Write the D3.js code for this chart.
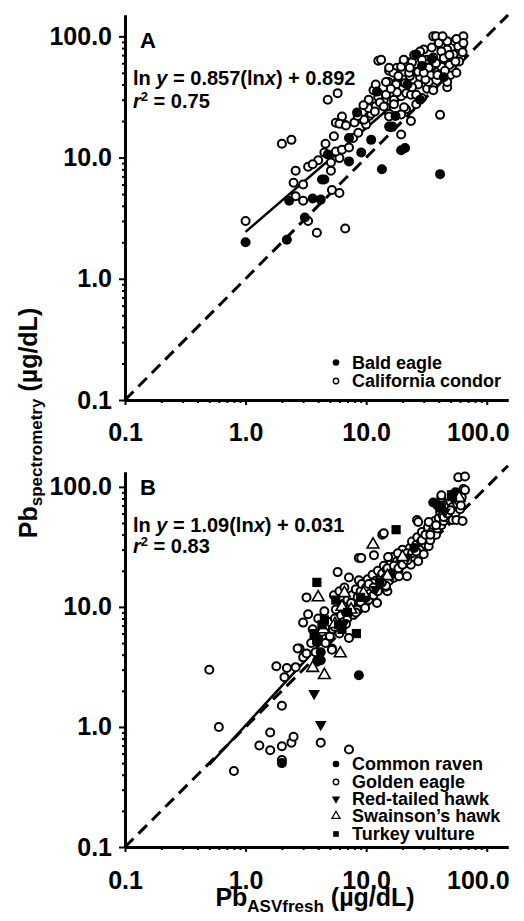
<!DOCTYPE html>
<html>
<head>
<meta charset="utf-8">
<title>Pb spectrometry vs Pb ASV</title>
<style>
  body { margin: 0; background: #fff; }
  svg { font-family: "Liberation Sans", Arial, sans-serif; font-weight: bold; }
  .axis path, .axis line { stroke: #000; }
  .axis path { stroke-width: 3; }
  .axis line { stroke-width: 2; }
  .axis text { font-family: "Liberation Sans", Arial, sans-serif; font-size: 25px; font-weight: bold; fill: #000; }
  .eq { font-size: 20px; }
  .legend { font-size: 18px; }
</style>
</head>
<body>
<svg id="chart" width="524" height="921"></svg>
<script src="https://cdnjs.cloudflare.com/ajax/libs/d3/7.8.5/d3.min.js"></script>
<script>
// ---- ticks ----
const majorTicks = [0.1, 1, 10, 100];
const majorLabels = ["0.1", "1.0", "10.0", "100.0"];
const minorTicks = [0.2, 0.3, 0.4, 0.5, 0.6, 0.7, 0.8, 0.9,
                    2, 3, 4, 5, 6, 7, 8, 9,
                    20, 30, 40, 50, 60, 70, 80, 90];

// ---- panel A : [Pb ASVfresh, Pb spectrometry] ----
const baldEagleA = [
  [1.0,2.0],[2.2,2.1],[2.3,4.4],[3.1,3.2],[3.6,4.6],[4.2,4.5],[4.3,6.6],[4.8,10.6],
  [7.2,9.3],[9.1,11],[11,14],[13.5,8.0],[19.5,11.5],[21,12],[15.5,18],[12.3,35],
  [8.4,23.5],[41,7.3],[26,71],[29,57],[44,46],[28,30],[7.2,14.5],[17.5,22],[35,65],
  [22,40],[4.5,6.6],[16,17.8]
];
const condorA = [
  [1.0,3.0],[2.0,13],[2.4,14],[2.6,7.8],[3.3,8.4],[2.5,6.2],[3.0,6.0],[2.6,4.8],[3.0,4.4],
  [3.3,3.0],[3.9,2.4],[6.7,2.6],[5.2,5.4],[6.0,5.1],[5.1,7.8],[5.1,9.1],[6.0,9.9],[5.6,11.2],
  [6.3,11.6],[7.2,12.1],[5.4,15],[5.6,19.4],[6.6,18.7],[6.3,21.8],[6.0,19],[6.8,18.4],[4.8,30],
  [5.8,34],[8.0,19.5],[9.3,20.5],[10.6,22],[10,18.7],[4.5,11],[4.0,9.5],[3.6,8.8],[4.6,13],
  [7.8,14.5],[8.6,16],[9.6,20.5],[11,23],[10.5,25.5],[12,26.5],[14,30],[13,33],[12.6,31.5],
  [13,28.5],[14.6,26],[15.5,23],[19.5,15.5],[21.4,25],[12.6,63],[13.3,64],
  [15.5,52],[18,55],[20.5,63],[15.3,42],[17,30],[19.5,32],[21.5,34],[18,42],[20.5,44],[23,47],
  [16.8,50],[19.5,56],[22,61],[26,51],[29.5,56],[32,64],[36,100],[38,100],[42,83],[47,78],
  [54,91],[61,83],[64,100],[58,75],[61,67],[47,57],[52,56],[46,46],[50,48],[32,37],[36,38],
  [28,46],[34,48],[41,22.5],[30,78],[35,81],[42,75],[20.5,64],[24,61],[29,64],[36,67],[53,71],
  [62,81],[15.5,55],[22.7,50],[27,51],[33,55],[42,56],[51,55],[59,62],[14.6,42],[17.7,40],
  [21,41],[27,40],[33,42],[36,36],[47,38],[14.6,33],[18,34.5],[23.5,33],[29,31],[14,26.4],
  [17,27.5],[20.6,26],[26,27.5],[15.5,21.8],[19.5,22.7],[23.5,20],[16.5,18],[47,42],[49,58],
  [47,91],[58,83],[56,95],[25,70],[28,75],[40,88],[44,66],[39,48],[55,62],[63,74],[45,52],
  [38,60],[31,44],[24,38],[26,33],[18.5,47],[11.5,36],[12,40],[10.5,30],[9.5,27],[11.8,24],
  [8.5,22],[16,37],[30,50],[56,50],[64,88],[49,70],[43,100],[23,55]
];

// ---- panel B ----
const ravenB = [
  [2.0,0.5],[3.9,5.1],[4.2,4.2],[4.2,3.6],[3.9,3.5],[8.7,2.7],[36,74],[39,70],[10,12],
  [16,19],[25,31],[55,90]
];
const goldenEagleB = [
  [0.5,3.0],[0.6,1.0],[0.8,0.43],[1.3,0.7],[1.6,0.9],[1.6,0.64],[2.0,0.69],[2.4,0.74],[2.5,0.83],
  [2.0,0.53],[2.0,1.5],[4.2,0.74],[7.2,0.65],
  [1.8,3.2],[2.2,3.1],[2.6,3.15],[3.0,3.8],[2.8,4.5],[2.1,2.6],[2.7,4.5],[3.2,4.1],[5.2,4.5],
  [5.2,4.4],[3.2,12],[3.3,8.7],[3.0,7.4],[5.8,19.5],[7.2,5.5],[12.3,10.8],[7.2,17.6],[8.7,16.7],
  [8.7,25.6],[3.5,5.0],[3.8,4.2],[4.0,5.5],[4.3,6.2],[4.6,5.0],[4.8,6.8],[3.6,6.5],[4.0,8.0],
  [4.5,9.2],[5.0,5.7],[5.0,7.5],[5.3,6.5],[5.5,8.0],[5.6,9.5],[5.8,7.0],[6.0,6.0],[6.2,8.5],
  [6.4,10.5],[6.5,7.5],[6.8,9.0],[7.0,11.5],[7.0,8.0],[7.4,9.8],[7.6,12.5],[7.8,8.6],[8.0,10.5],
  [5.4,12.5],[6.0,13.5],[6.6,14.5],[8.2,14.0],[8.4,9.5],[8.5,12],[8.8,11],[9.0,13.5],[9.2,15.5],
  [9.5,10.5],[9.8,12.5],[10,14.5],[10.3,17],[10.5,11.5],[10.8,13],[11,15.5],[11.3,18.5],
  [11.5,12.5],[11.8,14],[12,16.5],[12.5,20],[13,14.5],[13.3,17],[13.6,19],[14,22],[14,15.5],
  [14.5,17.5],[14.8,20.5],[15,13.5],[15.5,16.5],[15.8,19],[16,23],[16.5,26],[17,17.5],
  [17.5,20.5],[18,24],[18.7,18],[19,21.5],[19.5,25],[20,30],[14.6,14.7],[21,23],[21.8,18],
  [22,27],[23,31],[23.5,22.5],[24,35],[24.5,26],[25,29],[26,33],[26.5,38],[27,24],[28,30],
  [28.5,35],[29,42],[30,27.5],[31,33],[32,38],[32.5,46],[33,32],[34,36],[35,42],[26.4,53],
  [13.6,40],[14,41],[9.1,25.6],[11.6,27],[15.2,26],[18.3,28],[21.8,28],[11.3,15.8],[14.6,15],
  [36,48],[37,52],[38,40],[39,45],[40,55],[41,62],[42,48],[42,81],[42,85],[43,58],[44,52],
  [45,66],[46,70],[48,55],[49,62],[50,75],[52,53],[52,68],[54,80],[55,60],[56,53],[57,72],
  [58,88],[58,120],[59,76],[60,65],[61,70],[62,82],[63,52],[64,96],[66,122],[66,94],[33,51],[27,51],
  [5.5,6.8],[6.8,7.2],[7.5,10.8],[8.2,9.0],[9.0,11],[9.8,9.8],[10.5,15.5],[11.5,14.5],[12.5,13.5],
  [13.5,16],[15,21],[16,18.5],[17,22],[18.5,21],[20,22.5],[22,24.5],[24,28],[26,29],[29,36],
  [31,40],[34,40],[38,48],[44,56],[47,60],[50,64]
];
const redTailedHawkB = [[3.7,1.9],[4.2,1.05],[6.5,7.2],[12,14],[22,26],[45,62]];
const swainsonsHawkB = [
  [4.5,2.7],[3.6,3.1],[4.0,12],[6.1,4.1],[11.4,33],[59,81],[7.5,9.5],[9.5,13],[15,18],
  [5.5,7.2],[4.4,6.5],[20,26],[6.6,13],[6.3,10]
];
const turkeyVultureB = [
  [3.9,16],[5.6,11.4],[4.5,7.8],[4.3,7.1],[5.9,7.1],[6.3,6.5],[8.3,6.0],[3.7,6.0],[3.9,5.3],
  [17.7,44],[42,67],[52,83],[51,86],[9,12],[13,16],[7,9]
];

const svg = d3.select("#chart");

function drawMarks(g, x, y, data, shape, fill, big) {
  if (shape === "circle") {
    const r = fill === "#000" ? (big ? 5 : 3.3) : (big ? 4 : 2.7);
    g.selectAll(null).data(data).enter().append("circle")
      .attr("cx", d => x(d[0])).attr("cy", d => y(d[1]))
      .attr("r", r)
      .attr("fill", fill).attr("stroke", "#000")
      .attr("stroke-width", fill === "#000" ? 0 : (big ? 2 : 1.4));
    return;
  }
  const type = shape === "square" ? d3.symbolSquare : d3.symbolTriangle;
  const size = shape === "square" ? (big ? 85 : 32) : (big ? 60 : 30);
  const rot = shape === "triangleDown" ? 180 : 0;
  g.selectAll(null).data(data).enter().append("path")
    .attr("d", d3.symbol().type(type).size(size))
    .attr("transform", d => `translate(${x(d[0])},${y(d[1])}) rotate(${rot})`)
    .attr("fill", fill).attr("stroke", "#000")
    .attr("stroke-width", fill === "#000" ? 0 : (big ? 1.6 : 1.2));
}

function drawPanel(cfg) {
  const x = d3.scaleLog().domain([0.1, 150]).range([125, 508]);
  const y = d3.scaleLog().domain([0.1, cfg.yTop]).range([cfg.yBase, cfg.yEnd]);
  const g = svg.append("g");

  // 1:1 line
  g.append("line")
    .attr("x1", x(0.1)).attr("y1", y(0.1))
    .attr("x2", x(150)).attr("y2", y(150))
    .attr("stroke", "#000").attr("stroke-width", 3)
    .attr("stroke-dasharray", "12,7");

  // regression line  ln y = a ln x + b
  const fit = cfg.fitRange.map(v => [v, Math.exp(cfg.b) * Math.pow(v, cfg.a)]);
  g.append("path")
    .attr("d", d3.line().x(d => x(d[0])).y(d => y(d[1]))(fit))
    .attr("stroke", "#000").attr("stroke-width", 2.5).attr("fill", "none");

  cfg.series.forEach(s => drawMarks(g, x, y, s.data, s.shape, s.fill, true));

  // axes
  g.append("g").attr("class", "axis").attr("transform", "translate(125,0)")
    .call(d3.axisLeft(y).tickValues(minorTicks).tickSize(3).tickSizeOuter(0).tickFormat(""));
  g.append("g").attr("class", "axis").attr("transform", "translate(125,0)")
    .call(d3.axisLeft(y).tickValues(majorTicks).tickSize(6).tickSizeOuter(0)
      .tickPadding(7).tickFormat((d, i) => majorLabels[i]));
  g.append("g").attr("class", "axis").attr("transform", `translate(0,${cfg.yBase})`)
    .call(d3.axisBottom(x).tickValues(minorTicks).tickSize(3).tickSizeOuter(0).tickFormat(""));
  const xa = g.append("g").attr("class", "axis").attr("transform", `translate(0,${cfg.yBase})`)
    .call(d3.axisBottom(x).tickValues(majorTicks).tickSize(5).tickSizeOuter(0)
      .tickPadding(cfg.xPad).tickFormat((d, i) => majorLabels[i]));
  xa.selectAll(".tick text").filter(d => d === 100).attr("dx", -9);

  // panel letter
  g.append("text").attr("x", 140).attr("y", cfg.letterY)
    .attr("font-size", 22).text(cfg.letter);

  // equation
  const eq1 = g.append("text").attr("class", "eq").attr("x", 133).attr("y", cfg.eqY[0]);
  eq1.append("tspan").text("ln ");
  eq1.append("tspan").attr("font-style", "italic").text("y");
  eq1.append("tspan").text(` = ${cfg.aText}(ln`);
  eq1.append("tspan").attr("font-style", "italic").text("x");
  eq1.append("tspan").text(`) + ${cfg.bText}`);
  const eq2 = g.append("text").attr("class", "eq").attr("x", 133).attr("y", cfg.eqY[1]);
  eq2.append("tspan").attr("font-style", "italic").text("r");
  eq2.append("tspan").attr("font-size", 13).attr("dy", -7).text("2");
  eq2.append("tspan").attr("dy", 7).text(` = ${cfg.r2Text}`);

  // legend
  const lg = g.append("g");
  cfg.series.slice().sort((p, q) => p.order - q.order).forEach((s, i) => {
    const ty = cfg.legendY[i];
    drawMarks(lg, v => v, v => v, [[336, ty - 6]], s.shape, s.fill, false);
    lg.append("text").attr("class", "legend").attr("x", 352).attr("y", ty).text(s.name);
  });
}

drawPanel({
  yTop: 150, yBase: 400, yEnd: 15, xPad: 18,
  letter: "A", letterY: 48, eqY: [85, 108],
  a: 0.857, b: 0.892, aText: "0.857", bText: "0.892", r2Text: "0.75",
  fitRange: [1.0, 65],
  legendY: [368.5, 387],
  series: [
    { name: "California condor", data: condorA, shape: "circle", fill: "#fff", order: 1 },
    { name: "Bald eagle", data: baldEagleA, shape: "circle", fill: "#000", order: 0 }
  ]
});

drawPanel({
  yTop: 133, yBase: 847, yEnd: 472, xPad: 19,
  letter: "B", letterY: 495, eqY: [532, 553],
  a: 1.09, b: 0.031, aText: "1.09", bText: "0.031", r2Text: "0.83",
  fitRange: [0.5, 65],
  legendY: [770, 788, 805, 822, 840],
  series: [
    { name: "Golden eagle", data: goldenEagleB, shape: "circle", fill: "#fff", order: 1 },
    { name: "Common raven", data: ravenB, shape: "circle", fill: "#000", order: 0 },
    { name: "Red-tailed hawk", data: redTailedHawkB, shape: "triangleDown", fill: "#000", order: 2 },
    { name: "Swainson\u2019s hawk", data: swainsonsHawkB, shape: "triangleUp", fill: "#fff", order: 3 },
    { name: "Turkey vulture", data: turkeyVultureB, shape: "square", fill: "#000", order: 4 }
  ]
});

// axis titles
const yt = svg.append("text").attr("transform", "translate(37,423) rotate(-90)")
  .attr("text-anchor", "middle").attr("font-size", 25);
yt.append("tspan").text("Pb");
yt.append("tspan").attr("font-size", 17).attr("dy", 5).text("spectrometry");
yt.append("tspan").attr("dy", -5).text(" (\u00b5g/dL)");

const xt = svg.append("text").attr("x", 315).attr("y", 906)
  .attr("text-anchor", "middle").attr("font-size", 25);
xt.append("tspan").text("Pb");
xt.append("tspan").attr("font-size", 17).attr("dy", 6).text("ASVfresh");
xt.append("tspan").attr("dy", -6).text(" (\u00b5g/dL)");
</script>
</body>
</html>
